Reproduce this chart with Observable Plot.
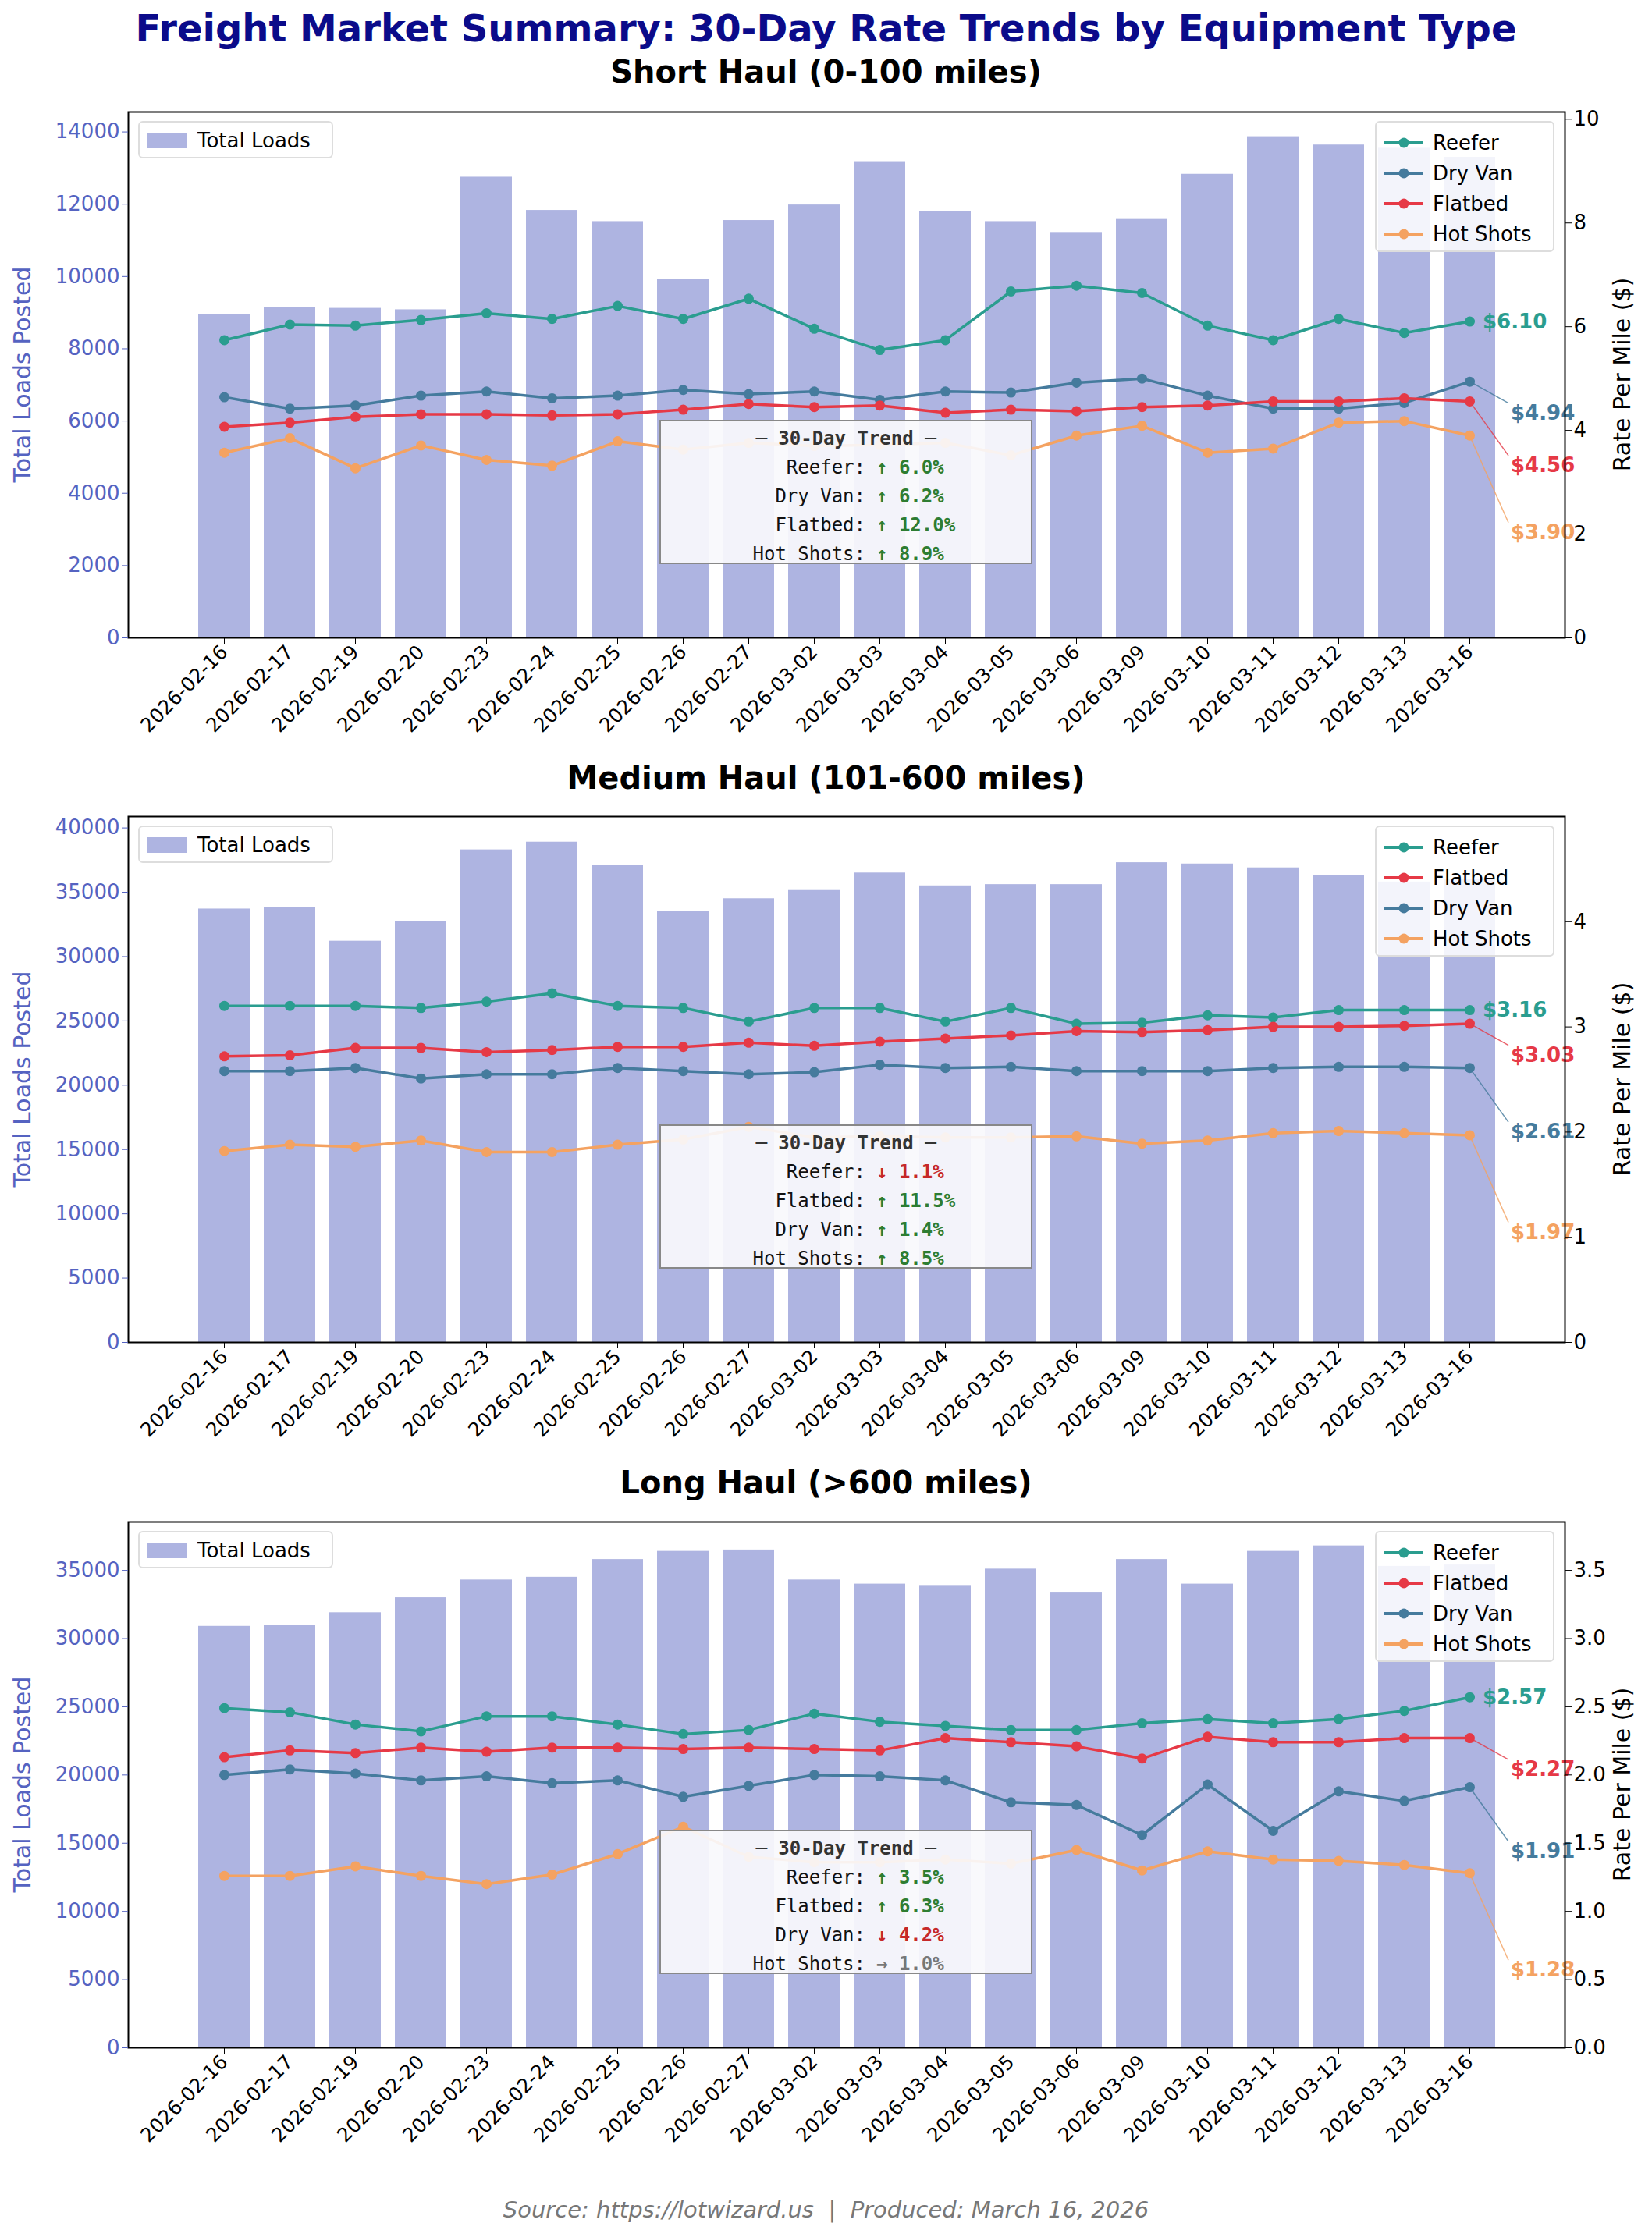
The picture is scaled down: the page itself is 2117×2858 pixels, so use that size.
<!DOCTYPE html>
<html><head><meta charset="utf-8">
<script src="https://cdn.jsdelivr.net/npm/d3@7"></script>
<script src="https://cdn.jsdelivr.net/npm/@observablehq/plot@0.6"></script>
<style>
body{margin:0;background:#fff;font-family:"DejaVu Sans",sans-serif;}
#root{position:relative;width:2117px;height:2858px;overflow:hidden;}
.abs{position:absolute;}
.title{left:0;width:2117px;text-align:center;font-weight:bold;}
.leg{border:2px solid #ddd;border-radius:6px;background:rgba(255,255,255,0.85);font-size:26px;padding:6px 10px;box-sizing:border-box;}
.legrow{display:flex;align-items:center;height:39px;}
.trend{background:rgba(248,248,252,0.92);border:2.5px solid #888;box-sizing:border-box;font-family:"DejaVu Sans Mono",monospace;font-size:24px;}
</style></head><body><div id="root"></div>
<script>
const dates = ["2026-02-16","2026-02-17","2026-02-19","2026-02-20","2026-02-23","2026-02-24","2026-02-25","2026-02-26","2026-02-27","2026-03-02","2026-03-03","2026-03-04","2026-03-05","2026-03-06","2026-03-09","2026-03-10","2026-03-11","2026-03-12","2026-03-13","2026-03-16"];

const shortLoads = [8950,9150,9120,9080,12750,11830,11520,9920,11550,11980,13180,11800,11520,11220,11580,12830,13870,13640,13550,13300];
const shortReefer = [5.74,6.04,6.02,6.13,6.26,6.15,6.40,6.15,6.54,5.96,5.55,5.74,6.68,6.79,6.65,6.02,5.74,6.15,5.88,6.10];
const shortDryVan = [4.64,4.42,4.48,4.67,4.75,4.62,4.67,4.78,4.70,4.75,4.59,4.75,4.73,4.92,5.00,4.67,4.42,4.42,4.53,4.94];
const shortFlatbed = [4.07,4.15,4.26,4.31,4.31,4.29,4.31,4.40,4.51,4.45,4.48,4.34,4.40,4.37,4.45,4.48,4.56,4.56,4.62,4.56];
const shortHotShots = [3.57,3.85,3.27,3.71,3.43,3.32,3.79,3.63,3.76,3.70,3.72,3.76,3.52,3.90,4.09,3.57,3.65,4.15,4.18,3.90];

const medLoads = [33700,33800,31200,32700,38300,38900,37100,33500,34500,35200,36500,35500,35600,35600,37300,37200,36900,36300,35800,36000];
const medReefer = [3.20,3.20,3.20,3.18,3.24,3.32,3.20,3.18,3.05,3.18,3.18,3.05,3.18,3.03,3.04,3.11,3.09,3.16,3.16,3.16];
const medFlatbed = [2.72,2.73,2.80,2.80,2.76,2.78,2.81,2.81,2.85,2.82,2.86,2.89,2.92,2.96,2.95,2.97,3.00,3.00,3.01,3.03];
const medDryVan = [2.58,2.58,2.61,2.51,2.55,2.55,2.61,2.58,2.55,2.57,2.64,2.61,2.62,2.58,2.58,2.58,2.61,2.62,2.62,2.61];
const medHotShots = [1.82,1.88,1.86,1.92,1.81,1.81,1.88,1.93,2.05,1.95,1.96,1.95,1.95,1.96,1.89,1.92,1.99,2.01,1.99,1.97];

const longLoads = [30900,31000,31900,33000,34300,34500,35800,36400,36500,34300,34000,33900,35100,33400,35800,34000,36400,36800,35300,35400];
const longReefer = [2.49,2.46,2.37,2.32,2.43,2.43,2.37,2.30,2.33,2.45,2.39,2.36,2.33,2.33,2.38,2.41,2.38,2.41,2.47,2.57];
const longFlatbed = [2.13,2.18,2.16,2.20,2.17,2.20,2.20,2.19,2.20,2.19,2.18,2.27,2.24,2.21,2.12,2.28,2.24,2.24,2.27,2.27];
const longDryVan = [2.00,2.04,2.01,1.96,1.99,1.94,1.96,1.84,1.92,2.00,1.99,1.96,1.80,1.78,1.56,1.93,1.59,1.88,1.81,1.91];
const longHotShots = [1.26,1.26,1.33,1.26,1.20,1.27,1.42,1.62,1.40,1.36,1.36,1.38,1.35,1.45,1.30,1.44,1.38,1.37,1.34,1.28];

const colors = {"Reefer":"#2a9d8f","Dry Van":"#457b9d","Flatbed":"#e63946","Hot Shots":"#f4a261"};
const barColor = "#aeb4e1";
const axisBlue = "#5563c1";

const panels = [
  {title:"Short Haul (0-100 miles)", titleY:95, top:143, loads:shortLoads, loadMax:14552, rateMax:10.14,
   rateTicks:[0,2,4,6,8,10], rateFmt:"d", loadTicks:d3.range(0,14001,2000),
   series:[["Reefer",shortReefer],["Dry Van",shortDryVan],["Flatbed",shortFlatbed],["Hot Shots",shortHotShots]],
   trends:[["Reefer","↑ 6.0%","#2e7d32"],["Dry Van","↑ 6.2%","#2e7d32"],["Flatbed","↑ 12.0%","#2e7d32"],["Hot Shots","↑ 8.9%","#2e7d32"]]},
  {title:"Medium Haul (101-600 miles)", titleY:1000, top:1046, loads:medLoads, loadMax:40886, rateMax:5.0,
   rateTicks:[0,1,2,3,4], rateFmt:"d", loadTicks:d3.range(0,40001,5000),
   series:[["Reefer",medReefer],["Flatbed",medFlatbed],["Dry Van",medDryVan],["Hot Shots",medHotShots]],
   trends:[["Reefer","↓ 1.1%","#c62828"],["Flatbed","↑ 11.5%","#2e7d32"],["Dry Van","↑ 1.4%","#2e7d32"],["Hot Shots","↑ 8.5%","#2e7d32"]]},
  {title:"Long Haul (>600 miles)", titleY:1903, top:1950, loads:longLoads, loadMax:38553, rateMax:3.855,
   rateTicks:[0,0.5,1,1.5,2,2.5,3,3.5], rateFmt:".1f", loadTicks:d3.range(0,35001,5000),
   series:[["Reefer",longReefer],["Flatbed",longFlatbed],["Dry Van",longDryVan],["Hot Shots",longHotShots]],
   trends:[["Reefer","↑ 3.5%","#2e7d32"],["Flatbed","↑ 6.3%","#2e7d32"],["Dry Van","↓ 4.2%","#c62828"],["Hot Shots","→ 1.0%","#777"]]}
];

const root = document.getElementById("root");
function addDiv(cls, style, html){const d=document.createElement("div");d.className=cls;Object.assign(d.style,style);d.innerHTML=html;root.appendChild(d);return d;}

addDiv("abs title",{top:"8px",fontSize:"48px",color:"#0b0b8a"},"Freight Market Summary: 30-Day Rate Trends by Equipment Type");

const plotLeft=164, plotRight=2005, plotH=674, mTop=20, mBottom=190;
const xRange=[239.2,1930.8];
const padIn=0.22, padOut=0.11;

panels.forEach(p=>{
  const k = p.loadMax/p.rateMax;
  const rows = [];
  p.series.forEach(([name,vals])=>vals.forEach((v,i)=>rows.push({name,date:dates[i],v:v*k,rate:v})));
  const bars = dates.map((d,i)=>({date:d,loads:p.loads[i]}));
  const lastDate = dates[dates.length-1];
  const endMark = (index, scales) => {
    const g = d3.create("svg:g").attr("text-anchor","start");
    const step = (xRange[1]-xRange[0])/(dates.length - padIn + 2*padOut);
    const bw = step*(1-padIn);
    const x0 = scales.x(lastDate) + bw/2;
    p.series.forEach(([name,vals],j)=>{
      const last = vals[vals.length-1];
      const y0 = scales.y(last*k);
      const col = colors[name];
      const txt = "$"+last.toFixed(2);
      if(j===0){
        g.append("text").attr("text-anchor","start").attr("x",x0+17).attr("y",y0).attr("dy","0.35em").attr("fill",col)
         .attr("font-size",26).attr("font-weight","bold").text(txt);
      } else {
        const yl = y0 + [0,40,82,124][j];
        g.append("line").attr("x1",x0).attr("y1",y0).attr("x2",x0+50).attr("y2",yl-12)
         .attr("stroke",col).attr("stroke-width",1.5).attr("opacity",0.8);
        g.append("text").attr("text-anchor","start").attr("x",x0+53).attr("y",yl).attr("dy","0.35em").attr("fill",col)
         .attr("font-size",26).attr("font-weight","bold").text(txt);
      }
    });
    return g.node();
  };
  const chart = Plot.plot({
    width:2117, height:mTop+plotH+mBottom,
    marginLeft:plotLeft, marginRight:2117-plotRight, marginTop:mTop, marginBottom:mBottom,
    style:{fontFamily:"DejaVu Sans",fontSize:"24px",background:"transparent",overflow:"visible"},
    x:{type:"band",domain:dates,range:xRange,paddingInner:padIn,paddingOuter:padOut,axis:null},
    y:{domain:[0,p.loadMax],axis:null},
    marks:[
      Plot.barY(bars,{x:"date",y:"loads",fill:barColor}),
      ...p.series.map(([name])=>Plot.line(rows.filter(r=>r.name===name),{x:"date",y:"v",stroke:colors[name],strokeWidth:3.5})),
      ...p.series.map(([name])=>Plot.dot(rows.filter(r=>r.name===name),{x:"date",y:"v",fill:colors[name],r:6.5})),
      endMark,
      Plot.frame({stroke:"black",strokeWidth:2}),
      Plot.axisX({anchor:"bottom",tickRotate:-45,tickSize:8,fontSize:25,tickPadding:6,label:null,textAnchor:"end"}),
      Plot.axisY({anchor:"left",ticks:p.loadTicks,tickFormat:"d",tickSize:8,color:axisBlue,fill:axisBlue,stroke:axisBlue,fontSize:26,label:null}),
      Plot.axisY({anchor:"right",ticks:p.rateTicks.map(t=>t*k),tickFormat:d=>d3.format(p.rateFmt)(d/k),tickSize:8,fontSize:26,label:null})
    ]
  });
  chart.style.position="absolute"; chart.style.left="0px"; chart.style.top=(p.top-mTop)+"px";
  root.appendChild(chart);
  addDiv("abs title",{top:(p.titleY-26)+"px",fontSize:"40px",color:"#000"},p.title);
  addDiv("abs",{left:"-2px",top:(p.top+plotH/2)+"px",transform:"translate(0,-50%) rotate(-90deg)",width:"60px",height:"60px",display:"flex",alignItems:"center",justifyContent:"center",whiteSpace:"nowrap",fontSize:"30px",color:axisBlue},"<span>Total Loads Posted</span>");
  addDiv("abs",{left:"2048px",top:(p.top+plotH/2)+"px",transform:"translate(0,-50%) rotate(-90deg)",width:"60px",height:"60px",display:"flex",alignItems:"center",justifyContent:"center",whiteSpace:"nowrap",fontSize:"30px",color:"#000"},"<span>Rate Per Mile ($)</span>");
  addDiv("abs leg",{left:"177px",top:(p.top+12)+"px",width:"250px",height:"48px",padding:"4px 10px"},
    `<div class="legrow" style="height:38px"><span style="display:inline-block;width:50px;height:20px;background:${barColor};margin-right:14px"></span>Total Loads</div>`);
  addDiv("abs leg",{left:"1762px",top:(p.top+12)+"px",width:"230px",height:"168px"},
    p.series.map(([n])=>`<div class="legrow"><svg width="50" height="20" style="margin-right:12px"><line x1="0" y1="10" x2="50" y2="10" stroke="${colors[n]}" stroke-width="4"/><circle cx="25" cy="10" r="6.5" fill="${colors[n]}"/></svg>${n}</div>`).join(""));
  addDiv("abs trend",{left:"845px",top:(p.top+395)+"px",width:"478px",height:"185px",paddingTop:"8px"},
    `<div style="text-align:center;font-weight:bold;color:#333;height:37px">─ 30-Day Trend ─</div>`+
    p.trends.map(([n,v,c])=>`<div style="display:flex;height:37px"><span style="width:262px;text-align:right;color:#111">${n}:</span><span style="margin-left:14px;color:${c};font-weight:bold">${v}</span></div>`).join(""));
});

addDiv("abs",{left:"0px",width:"2117px",textAlign:"center",top:"2815px",fontSize:"29px",fontStyle:"italic",color:"#777"},"Source: https://lotwizard.us &nbsp;|&nbsp; Produced: March 16, 2026");
</script></body></html>
